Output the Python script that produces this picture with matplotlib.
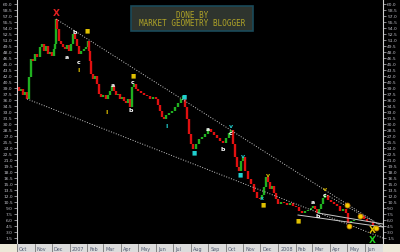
import numpy as np
import matplotlib
matplotlib.use("Agg")
import matplotlib.pyplot as plt
import matplotlib.patches as mpatches
import pandas as pd

# x in weeks from 2006-10-01, price in points
week = [0, 0.5, 1.0, 1.5, 2.0, 2.5, 3.0, 3.5, 4.0, 4.5, 5.0, 5.75, 6.25, 6.75, 7.25, 7.75,
        8.25, 8.75, 9.25, 9.5, 9.75, 10.0, 10.5, 11.0, 11.5, 12.0, 12.5, 13.0, 13.5, 14.0,
        14.5, 15.0, 15.5, 16.0, 16.75, 17.25, 17.75, 18.0, 18.25, 18.5, 19.0, 19.5, 20.0,
        20.5, 21.0, 21.5, 22.25, 22.75, 23.25, 23.75, 24.25, 24.75, 25.25, 25.75, 26.25,
        26.75, 27.25, 27.75, 28.25, 28.75, 29.25, 29.75, 30.25, 31.0, 31.75, 32.5, 33.25,
        34.0, 34.75, 35.25, 35.75, 36.25, 36.75, 37.25, 38.0, 38.75, 39.5, 40.25, 41.0,
        41.5, 42.0, 42.5, 43.0, 43.5, 44.0, 44.75, 45.5, 46.25, 47.0, 47.75, 48.5, 49.25,
        50.0, 50.75, 51.5, 52.25, 53.0, 53.5, 54.0, 54.5, 55.0, 55.5, 56.0, 56.5, 57.0,
        57.75, 58.5, 59.25, 60.0, 60.75, 61.25, 61.75, 62.25, 62.75, 63.25, 63.75, 64.25,
        64.75, 65.25, 66.0, 66.75, 67.5, 68.25, 69.0, 69.75, 70.5, 71.25, 72.0, 72.75,
        73.5, 74.0, 74.5, 75.0, 75.5, 76.0, 76.5, 77.0, 77.75, 78.5, 79.25, 80.0, 80.75,
        81.5, 82.25, 82.75, 83.5, 84.25, 85.0, 85.75, 86.25, 86.75, 87.5, 88.25, 89.0]
close = [39.25, 38.25, 38.75, 37.25, 38.0, 36.25, 41.75, 46.25, 45.75, 47.5, 46.75, 49.25,
         50.0, 48.25, 49.5, 47.5, 48.0, 47.0, 48.75, 50.0, 56.25, 53.75, 50.75, 50.0, 49.25,
         48.75, 49.75, 48.25, 50.0, 52.5, 51.25, 49.5, 47.5, 48.25, 48.75, 49.25, 50.75,
         48.25, 45.75, 42.5, 41.25, 42.0, 40.0, 37.5, 36.75, 37.25, 36.25, 37.25, 38.25,
         39.5, 38.25, 37.25, 37.5, 36.25, 36.75, 35.75, 35.25, 36.25, 34.25, 39.25, 40.0,
         38.75, 38.25, 37.75, 37.25, 37.0, 36.25, 36.75, 36.25, 34.75, 33.25, 31.75, 31.25,
         32.25, 32.75, 33.25, 34.25, 35.25, 36.25, 37.0, 34.25, 31.25, 27.5, 25.0, 23.75,
         25.0, 26.25, 26.75, 27.5, 28.75, 28.0, 27.25, 26.5, 25.75, 25.25, 26.5, 27.75,
         28.5, 25.0, 21.75, 19.25, 18.25, 20.75, 21.75, 18.25, 16.25, 15.0, 13.0, 11.5,
         11.25, 12.25, 14.25, 16.75, 15.5, 13.75, 14.5, 12.75, 11.25, 10.0, 10.5, 10.25,
         9.75, 10.25, 9.5, 9.25, 8.25, 7.75, 8.25, 8.5, 9.0, 9.5, 8.75, 7.75, 8.75, 10.0,
         11.5, 12.25, 11.0, 10.5, 10.0, 9.5, 8.25, 8.75, 7.75, 5.25, 5.75, 6.0, 6.25, 6.5,
         7.0, 6.25, 5.75, 5.5, 4.75]

# trend lines: (week0, price0, week1, price1, style)
trend_lines = [
    (9.75, 56.25, 91.5, 4.25, ":"),
    (2.5, 36.25, 91.5, 1.5, ":"),
    (77.0, 12.5, 91.5, 4.25, ":"),
    (70.25, 7.25, 91.5, 4.25, "-"),
    (75.25, 7.75, 91.5, 5.0, "-"),
]

# wave labels: (week, price, text, colour)
wave_labels = [
    (9.75, 57.8, "X", "#e02020"), (12.5, 46.8, "a", "w"), (14.5, 53.0, "b", "w"),
    (15.5, 45.7, "c", "w"), (15.5, 43.7, "I", "#e0c000"), (17.5, 53.5, "■", "#e0c000"),
    (24.0, 39.8, "a", "w"), (22.5, 33.0, "I", "#e0c000"), (28.5, 33.5, "b", "w"),
    (29.0, 42.2, "■", "#e0c000"), (29.0, 40.5, "c", "w"), (37.5, 29.5, "I", "#20d0d0"),
    (41.75, 37.0, "■", "#20d0d0"), (44.25, 23.0, "■", "#20d0d0"),
    (47.75, 28.75, "a", "w"), (51.5, 23.75, "b", "w"), (53.5, 29.5, "v", "#20d0d0"),
    (53.5, 27.75, "c", "w"), (56.5, 22.0, "v", "#20d0d0"), (55.75, 17.5, "■", "#20d0d0"),
    (61.25, 11.5, "x", "#20d0d0"), (61.5, 10.0, "■", "#e0c000"),
    (62.75, 17.25, "v", "#e0c000"), (70.25, 6.0, "■", "#e0c000"),
    (74.0, 10.5, "a", "w"), (75.25, 7.0, "b", "w"), (77.0, 13.8, "v", "#e0c000"),
    (77.0, 12.25, "c", "w"), (88.75, 3.6, "X", "#e0c000"), (88.75, 1.1, "X", "#20d020"),
]
circles = [(82.5, 9.75), (85.75, 7.0), (83.0, 4.5), (89.75, 4.0)]

month_names = ["Oct", "Nov", "Dec", "2007", "Feb", "Mar", "Apr", "May", "Jun", "Jul",
               "Aug", "Sep", "Oct", "Nov", "Dec", "2008", "Feb", "Mar", "Apr", "May", "Jun"]
months = pd.date_range("2006-10-01", periods=len(month_names), freq="MS")
month_weeks = [(m - months[0]).days / 7.0 for m in months]

fig = plt.figure(figsize=(4.0, 2.53), dpi=100, facecolor="black")
ax = fig.add_axes([17 / 400, 8 / 253, 366 / 400, 245 / 253], facecolor="black")
ax.set_xlim(0, 91.5)
ax.set_ylim(0, 61.25)

# bars: from previous close to close
for i in range(1, len(week)):
    c = "#20b020" if close[i] >= close[i - 1] else "#e01010"
    ax.plot([week[i], week[i]], [close[i - 1], close[i]], color=c, lw=1.7,
            solid_capstyle="butt")

for x0, y0, x1, y1, ls in trend_lines:
    ax.plot([x0, x1], [y0, y1], color="#c8c8c8", lw=0.7, ls=ls)

for x, y, t, col in wave_labels:
    size = 6.5 if t == "X" else (4 if t == "■" else 4.5)
    ax.text(x, y, t, color=col, fontsize=size, fontweight="bold", ha="center", va="center")
for x, y in circles:
    ax.plot(x, y, "o", ms=3.5, mfc="#f0d000", mec="#d08000", mew=0.6)

# title box
fig.patches.append(mpatches.Rectangle((131 / 400, 1 - 32 / 253), 122 / 400, 25 / 253,
                                      transform=fig.transFigure, facecolor="#2e342e",
                                      edgecolor="#1a4a5a", lw=1.2))
fig.text(192 / 400, 1 - 15 / 253, "DONE BY", color="#b0a428", fontsize=5.5,
         family="DejaVu Sans Mono", ha="center", va="center")
fig.text(192 / 400, 1 - 23 / 253, "MARKET GEOMETRY BLOGGER", color="#b0a428",
         fontsize=5.5, family="DejaVu Sans Mono", ha="center", va="center")

# price axes
ticks = np.arange(1.5, 61, 1.5)
ax.set_yticks(ticks)
ax.set_yticklabels(["%.1f" % t for t in ticks])
ax.tick_params(axis="y", which="both", left=True, right=True, labelleft=True,
               labelright=True, colors="#c0c0c8", labelsize=3.2, length=2, width=0.5,
               pad=1)
ax.set_xticks([])
for side in ["top", "bottom"]:
    ax.spines[side].set_visible(False)
for side in ["left", "right"]:
    ax.spines[side].set_color("#d0d0d0")
    ax.spines[side].set_linewidth(0.8)

# month strip
sx = fig.add_axes([17 / 400, 0, 366 / 400, 8 / 253], facecolor="#dcdcdc")
sx.set_xlim(0, 91.5)
sx.set_ylim(0, 1)
sx.set_xticks([])
sx.set_yticks([])
for s in sx.spines.values():
    s.set_visible(False)
for w, name in zip(month_weeks, month_names):
    sx.axvline(w, color="#606060", lw=0.5)
    sx.text(w + 0.5, 0.45, name, fontsize=3.5, color="#505870", ha="left", va="center")
for x0 in [0, 383 / 400]:
    fig.patches.append(mpatches.Rectangle((x0, 0), 17 / 400, 8 / 253,
                                          transform=fig.transFigure,
                                          facecolor="#ece8d8", edgecolor="none"))

fig.savefig("out.png", dpi=100, facecolor="black")
